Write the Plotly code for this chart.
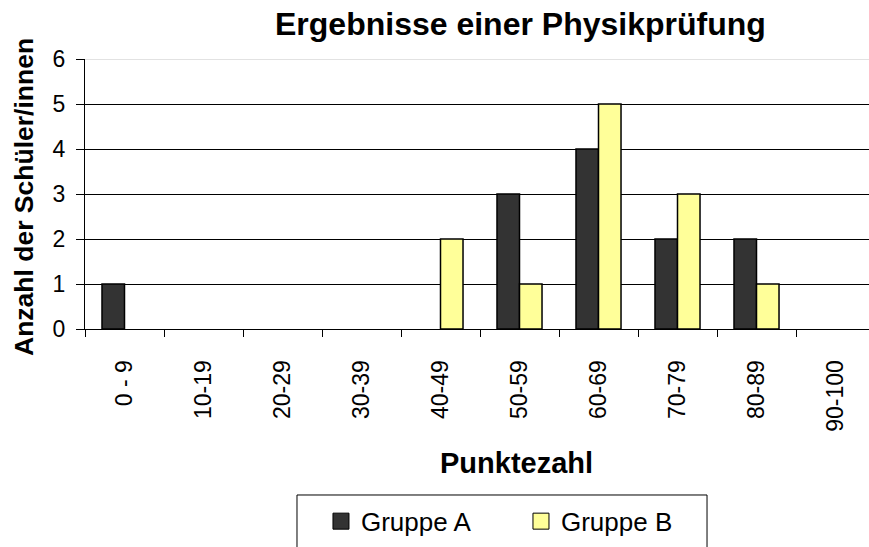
import plotly.graph_objects as go

categories = ["0 - 9", "10-19", "20-29", "30-39", "40-49", "50-59", "60-69", "70-79", "80-89", "90-100"]
gruppe_a = [1, 0, 0, 0, 0, 3, 4, 2, 2, 0]
gruppe_b = [0, 0, 0, 0, 2, 1, 5, 3, 1, 0]
y_ticks = [0, 1, 2, 3, 4, 5, 6]

FONT = "Arial, Liberation Sans, sans-serif"
COL_A = "#333333"
COL_B = "#FFFF99"

def nz(vals):
    # zero-height bars are not drawn (as in the original)
    return [v if v else None for v in vals]

fig = go.Figure()
fig.add_trace(go.Bar(x=categories, y=nz(gruppe_a), name="Gruppe A", showlegend=False,
                     marker=dict(color=COL_A, line=dict(color="black", width=1.5))))
fig.add_trace(go.Bar(x=categories, y=nz(gruppe_b), name="Gruppe B", showlegend=False,
                     marker=dict(color=COL_B, line=dict(color="black", width=1.5))))
# legend proxies (bigger square swatches)
fig.add_trace(go.Scatter(x=[None], y=[None], mode="markers", name="Gruppe A",
                         marker=dict(symbol="square", size=20, color=COL_A, line=dict(color="black", width=1))))
fig.add_trace(go.Scatter(x=[None], y=[None], mode="markers", name="Gruppe B",
                         marker=dict(symbol="square", size=20, color=COL_B, line=dict(color="black", width=1))))

fig.update_layout(
    width=869, height=547,
    margin=dict(l=85, r=0, t=59, b=218, autoexpand=False),
    paper_bgcolor="white", plot_bgcolor="white",
    font=dict(family=FONT, color="black"),
    barmode="group", bargap=0.43, bargroupgap=0,
    xaxis=dict(type="category", categoryorder="array", categoryarray=categories,
               range=[-0.5, 9.424], showline=True, linecolor="black", linewidth=1,
               ticks="outside", tickson="boundaries", ticklen=7, tickcolor="black",
               tickangle=-90, tickfont=dict(size=23, family=FONT, color="black"),
               ticklabelstandoff=21, showgrid=False, zeroline=False),
    yaxis=dict(range=[0, 6], tickvals=y_ticks, showline=True, linecolor="black", linewidth=1,
               ticks="outside", ticklen=8, tickcolor="black",
               tickfont=dict(size=23, family=FONT, color="black"),
               ticklabelstandoff=6,
               showgrid=True, gridcolor="black", gridwidth=1, zeroline=False),
    legend=dict(orientation="h", x=0.301, y=-0.625, xanchor="left", yanchor="top",
                bgcolor="rgba(0,0,0,0)", borderwidth=0,
                font=dict(size=26, family=FONT, color="black"),
                itemsizing="trace", entrywidth=155, entrywidthmode="pixels"),
    shapes=[
        dict(type="line", xref="paper", yref="y", x0=0, x1=1, y0=6, y1=6,
             line=dict(color="#d9d9d9", width=1.5), layer="above"),
        dict(type="rect", xref="paper", yref="paper", x0=0.2704, x1=0.7934,
             y0=-0.6148, y1=-0.9, line=dict(color="black", width=1),
             fillcolor="white", layer="below"),
    ],
    annotations=[
        dict(text="<b>Ergebnisse einer Physikprüfung</b>", xref="paper", yref="paper",
             x=0.556, y=1.13, xanchor="center", yanchor="middle", showarrow=False,
             font=dict(size=32, family=FONT, color="black")),
        dict(text="<b>Punktezahl</b>", xref="paper", yref="paper",
             x=0.551, y=-0.4975, xanchor="center", yanchor="middle", showarrow=False,
             font=dict(size=29, family=FONT, color="black")),
        dict(text="<b>Anzahl der Schüler/innen</b>", xref="paper", yref="paper",
             x=-0.0778, y=0.489, xanchor="center", yanchor="middle", showarrow=False,
             textangle=-90, font=dict(size=26.5, family=FONT, color="black")),
    ],
)

fig.write_html("out.html", config={"displayModeBar": False},
               post_script="document.body.style.margin='0';")
